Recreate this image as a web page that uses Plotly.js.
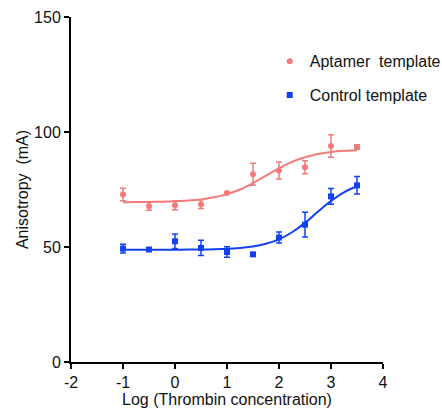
<!DOCTYPE html>
<html>
<head>
<meta charset="utf-8">
<script src="https://cdn.plot.ly/plotly-3.0.1.min.js"></script>
<style>html,body{margin:0;padding:0;background:#fff;}#chart{width:442px;height:412px;}</style>
</head>
<body>
<div id="chart"></div>
<script>
// Measured points (log thrombin concentration)
const logConc = [-1, -0.5, 0, 0.5, 1, 1.5, 2, 2.5, 3, 3.5];
const aptamerMean = [72.8, 67.7, 68.1, 68.6, 73.5, 81.6, 83.3, 84.7, 93.9, 93.5];
const aptamerErr  = [2.7, 1.7, 1.9, 1.9, 0.4, 4.8, 3.7, 2.8, 4.9, 1.0];
const controlMean = [49.3, 48.9, 52.5, 49.6, 47.8, 46.8, 54.1, 59.7, 72.0, 76.8];
const controlErr  = [1.9, 0.3, 3.1, 3.3, 2.3, 0, 2.4, 5.4, 3.4, 3.8];

// Fitted curves
const curveX = [-1, -0.75, -0.5, -0.25, 0, 0.25, 0.5, 0.75, 1, 1.25, 1.5, 1.75, 2, 2.25, 2.5, 2.75, 3, 3.25, 3.5];
const aptamerCurve = [69.5, 69.6, 69.6, 69.7, 69.9, 70.2, 70.7, 71.6, 73.0, 75.0, 77.8, 81.0, 84.2, 87.0, 89.0, 90.4, 91.3, 91.8, 92.1];
const controlCurve = [48.8, 48.8, 48.8, 48.8, 48.8, 48.9, 48.9, 49.0, 49.2, 49.6, 50.2, 51.4, 53.3, 56.4, 60.5, 65.4, 70.0, 73.8, 76.4];

const seriesNames = ['Aptamer  template', 'Control template'];
const xTicks = [-2, -1, 0, 1, 2, 3, 4];
const yTicks = [0, 50, 100, 150];

const red = '#F47B79';
const blue = '#1341F2';

const traces = [
  {x: curveX, y: aptamerCurve, mode: 'lines', line: {color: red, width: 2, shape: 'spline'}, showlegend: false, hoverinfo: 'skip'},
  {x: curveX, y: controlCurve, mode: 'lines', line: {color: blue, width: 2, shape: 'spline'}, showlegend: false, hoverinfo: 'skip'},
  {x: logConc, y: aptamerMean, name: seriesNames[0], mode: 'markers', legendgroup: 'a',
   marker: {color: red, size: 6, symbol: 'circle'},
   error_y: {type: 'data', array: aptamerErr, visible: true, color: red, thickness: 1.5, width: 3}},
  {x: logConc, y: controlMean, name: seriesNames[1], mode: 'markers', legendgroup: 'b',
   marker: {color: blue, size: 6, symbol: 'square'},
   error_y: {type: 'data', array: controlErr, visible: true, color: blue, thickness: 1.5, width: 3}}
];

const layout = {
  width: 442, height: 412,
  margin: {l: 71, r: 59, t: 17, b: 50, autoexpand: false},
  paper_bgcolor: '#fff', plot_bgcolor: '#fff',
  font: {family: 'Liberation Sans, Arial, sans-serif', size: 16, color: '#111'},
  showlegend: true,
  legend: {x: 0.637, y: 0.921, xanchor: 'left', yanchor: 'top', bgcolor: 'rgba(0,0,0,0)',
           font: {size: 16, color: '#111'}, tracegroupgap: 10},
  xaxis: {range: [-2, 4], tickvals: xTicks, ticktext: xTicks.map(String), showgrid: false, zeroline: false,
          showline: true, linecolor: '#000', linewidth: 2, ticks: 'outside', ticklen: 5, tickwidth: 2, tickcolor: '#000',
          tickfont: {size: 16}, automargin: false,
          title: {text: 'Log (Thrombin concentration)', font: {size: 16}, standoff: 4}, fixedrange: true},
  yaxis: {range: [0, 150], tickvals: yTicks, ticktext: yTicks.map(String), showgrid: false, zeroline: false,
          showline: true, linecolor: '#000', linewidth: 2, ticks: 'outside', ticklen: 5, tickwidth: 2, tickcolor: '#000',
          tickfont: {size: 16}, automargin: false,
          title: {text: 'Anisotropy  (mA)', font: {size: 16}, standoff: 1}, fixedrange: true}
};

Plotly.newPlot('chart', traces, layout, {displayModeBar: false, staticPlot: true});
</script>
</body>
</html>
